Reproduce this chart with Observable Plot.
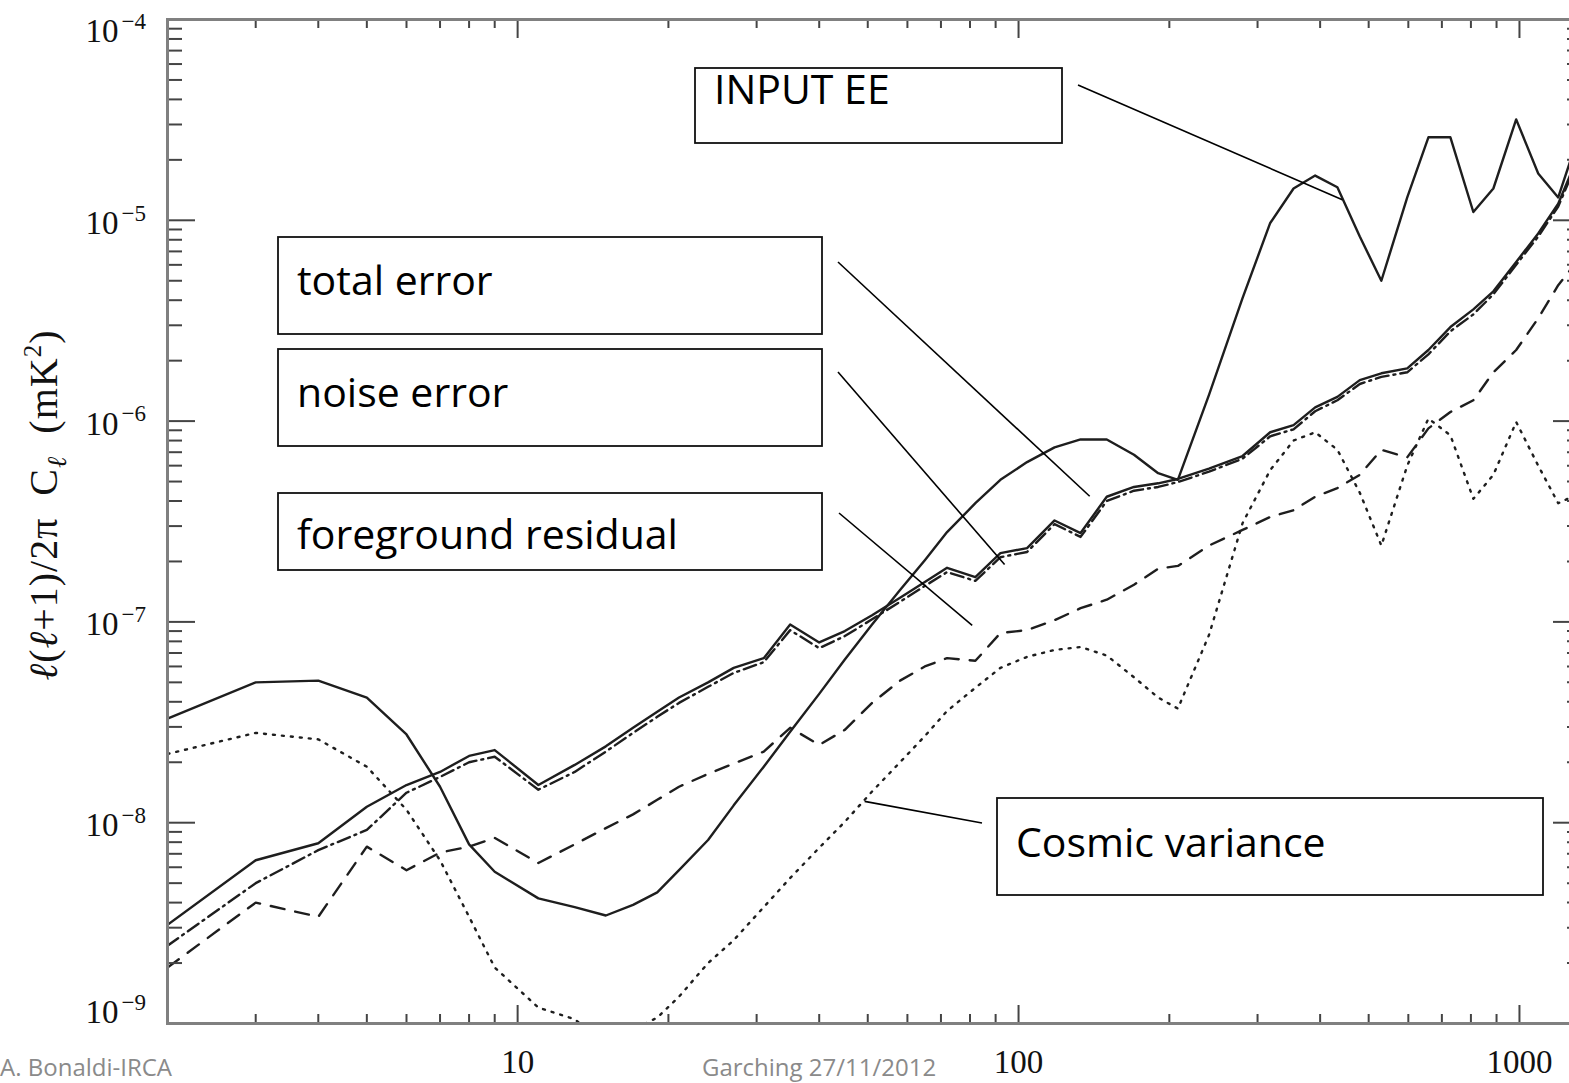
<!DOCTYPE html>
<html>
<head>
<meta charset="utf-8">
<script src="https://cdn.jsdelivr.net/npm/d3@7"></script>
<script src="https://cdn.jsdelivr.net/npm/@observablehq/plot@0.6"></script>
<style>
  html, body { margin: 0; padding: 0; background: #fff; overflow: hidden; }
  #chart svg { display: block; }
</style>
</head>
<body>
<div id="chart"></div>
<script>
// Multipole bins (ℓ)
const ell = [2, 3, 4, 5, 6, 7, 8, 9, 11, 13, 15, 17, 19, 21, 24, 27, 31, 35, 40, 45,
  51, 58, 65, 72, 82, 92, 104, 118, 133, 150, 170, 190, 208, 240, 280, 318, 354, 391, 433, 480,
  530, 597, 658, 728, 809, 887, 985, 1090, 1195, 1300];

// ℓ(ℓ+1)/2π C_ℓ in mK²
const inputEE = [3.3e-8, 5.0e-8, 5.1e-8, 4.2e-8, 2.75e-8, 1.51e-8, 7.8e-9, 5.7e-9, 4.2e-9, 3.8e-9,
  3.45e-9, 3.9e-9, 4.5e-9, 5.8e-9, 8.2e-9, 1.22e-8, 1.9e-8, 2.84e-8, 4.38e-8, 6.5e-8,
  9.7e-8, 1.44e-7, 2.03e-7, 2.8e-7, 3.9e-7, 5.1e-7, 6.25e-7, 7.4e-7, 8.1e-7, 8.1e-7,
  6.8e-7, 5.5e-7, 5.1e-7, 1.35e-6, 4.1e-6, 9.7e-6, 1.44e-5, 1.67e-5, 1.46e-5, 8.3e-6,
  5.0e-6, 1.3e-5, 2.59e-5, 2.59e-5, 1.1e-5, 1.44e-5, 3.18e-5, 1.71e-5, 1.3e-5, 2.45e-5];

const totalError = [3.1e-9, 6.5e-9, 7.9e-9, 1.2e-8, 1.54e-8, 1.79e-8, 2.15e-8, 2.3e-8, 1.54e-8, 1.94e-8,
  2.4e-8, 2.97e-8, 3.57e-8, 4.2e-8, 5.0e-8, 5.9e-8, 6.6e-8, 9.7e-8, 7.9e-8, 9.0e-8,
  1.08e-7, 1.32e-7, 1.58e-7, 1.86e-7, 1.67e-7, 2.2e-7, 2.33e-7, 3.2e-7, 2.77e-7, 4.2e-7,
  4.7e-7, 4.9e-7, 5.15e-7, 5.8e-7, 6.7e-7, 8.8e-7, 9.55e-7, 1.17e-6, 1.32e-6, 1.6e-6,
  1.73e-6, 1.83e-6, 2.26e-6, 2.94e-6, 3.6e-6, 4.43e-6, 6.2e-6, 8.6e-6, 1.21e-5, 2.0e-5];

const noiseError = [2.44e-9, 5.0e-9, 7.3e-9, 9.2e-9, 1.41e-8, 1.69e-8, 2.0e-8, 2.13e-8, 1.46e-8, 1.79e-8,
  2.26e-8, 2.8e-8, 3.37e-8, 3.95e-8, 4.75e-8, 5.57e-8, 6.3e-8, 9.1e-8, 7.4e-8, 8.5e-8,
  1.03e-7, 1.26e-7, 1.51e-7, 1.77e-7, 1.6e-7, 2.1e-7, 2.23e-7, 3.07e-7, 2.65e-7, 4.0e-7,
  4.5e-7, 4.7e-7, 4.97e-7, 5.6e-7, 6.5e-7, 8.4e-7, 9.1e-7, 1.12e-6, 1.27e-6, 1.53e-6,
  1.66e-6, 1.75e-6, 2.15e-6, 2.8e-6, 3.4e-6, 4.28e-6, 6.0e-6, 8.3e-6, 1.17e-5, 1.92e-5];

const foregroundResidual = [1.9e-9, 4.0e-9, 3.4e-9, 7.6e-9, 5.8e-9, 7.1e-9, 7.6e-9, 8.4e-9, 6.3e-9, 7.8e-9,
  9.4e-9, 1.1e-8, 1.3e-8, 1.51e-8, 1.75e-8, 1.97e-8, 2.26e-8, 2.97e-8, 2.44e-8, 2.9e-8,
  3.95e-8, 5.1e-8, 6.0e-8, 6.6e-8, 6.4e-8, 8.8e-8, 9.1e-8, 1.02e-7, 1.17e-7, 1.29e-7,
  1.53e-7, 1.84e-7, 1.9e-7, 2.4e-7, 2.87e-7, 3.33e-7, 3.6e-7, 4.2e-7, 4.64e-7, 5.4e-7,
  7.2e-7, 6.6e-7, 9.2e-7, 1.11e-6, 1.27e-6, 1.75e-6, 2.26e-6, 3.25e-6, 4.75e-6, 6.2e-6];

const cosmicVariance = [2.2e-8, 2.8e-8, 2.6e-8, 1.9e-8, 1.16e-8, 6.5e-9, 3.4e-9, 1.9e-9, 1.2e-9, 1.05e-9,
  7.9e-10, 9.3e-10, 1.07e-9, 1.36e-9, 2.0e-9, 2.6e-9, 3.8e-9, 5.3e-9, 7.5e-9, 1.01e-8,
  1.43e-8, 2.0e-8, 2.7e-8, 3.6e-8, 4.7e-8, 5.9e-8, 6.7e-8, 7.25e-8, 7.5e-8, 6.8e-8,
  5.3e-8, 4.2e-8, 3.7e-8, 8.6e-8, 3.1e-7, 5.7e-7, 8.0e-7, 8.8e-7, 7.2e-7, 4.4e-7,
  2.4e-7, 6.0e-7, 1.03e-6, 8.5e-7, 4.1e-7, 5.4e-7, 9.9e-7, 6.0e-7, 3.9e-7, 4.3e-7];

// Axis ticks
const xMajor = [10, 100, 1000];
const xMinor = [3, 4, 5, 6, 7, 8, 9, 20, 30, 40, 50, 60, 70, 80, 90, 200, 300, 400, 500, 600, 700, 800, 900];
const yMajor = [1e-9, 1e-8, 1e-7, 1e-6, 1e-5, 1e-4];
const yMinor = [-9, -8, -7, -6, -5].flatMap(e => [2, 3, 4, 5, 6, 7, 8, 9].map(k => k * 10 ** e));

// Annotation labels: text, leader start, and the curve point it points to
const notes = [
  {label: "INPUT EE", box: [695, 68, 367, 75], base: 104, from: [1078, 85], to: [444, 1.26e-5]},
  {label: "total error", box: [278, 237, 544, 97], base: 295, from: [838, 262], to: [139, 4.2e-7]},
  {label: "noise error", box: [278, 349, 544, 97], base: 407, from: [838, 372], to: [94, 1.92e-7]},
  {label: "foreground residual", box: [278, 493, 544, 77], base: 549, from: [839, 513], to: [81, 9.55e-8]},
  {label: "Cosmic variance", box: [997, 798, 546, 97], base: 857, from: [982, 823], to: [49.4, 1.27e-8]}
];

const series = [
  {name: "INPUT EE", values: inputEE, dash: null},
  {name: "total error", values: totalError, dash: null},
  {name: "noise error", values: noiseError, dash: "13,5,2,5"},
  {name: "foreground residual", values: foregroundResidual, dash: "14,11"},
  {name: "Cosmic variance", values: cosmicVariance, dash: "2,7"}
];

const W = 1569, H = 1083;
const mL = 167, mT = 19, mB = 60, mR = -12;
const frameW = W - mR - mL, frameH = H - mB - mT;
const serif = "'Liberation Serif', 'DejaVu Serif', serif";
const ink = "#1e1e1e";

const lineMarks = series.map(s => Plot.line(
  ell.map((l, i) => ({ell: l, value: s.values[i]})),
  {x: "ell", y: "value", stroke: ink, strokeWidth: 2.4, strokeDasharray: s.dash, clip: true}
));

const tickStyle = {stroke: "#444", strokeWidth: 2};

const plot = Plot.plot({
  width: W,
  height: H,
  marginLeft: mL,
  marginTop: mT,
  marginBottom: mB,
  marginRight: mR,
  style: {background: "#fff"},
  x: {type: "log", domain: [2, 1330], axis: null},
  y: {type: "log", domain: [1e-9, 1e-4], axis: null},
  marks: [
    ...lineMarks,
    // bottom and top ticks
    Plot.tickX(xMajor, {x: d => d, insetTop: frameH - 18, ...tickStyle}),
    Plot.tickX(xMinor, {x: d => d, insetTop: frameH - 9, ...tickStyle}),
    Plot.tickX(xMajor, {x: d => d, insetBottom: frameH - 19, ...tickStyle}),
    Plot.tickX(xMinor, {x: d => d, insetBottom: frameH - 9, ...tickStyle}),
    // left and right ticks
    Plot.tickY(yMajor, {y: d => d, insetRight: frameW - 28, ...tickStyle}),
    Plot.tickY(yMinor, {y: d => d, insetRight: frameW - 15, ...tickStyle}),
    Plot.tickY(yMajor, {y: d => d, insetLeft: frameW - 28, ...tickStyle}),
    Plot.tickY(yMinor, {y: d => d, insetLeft: frameW - 14, ...tickStyle}),
    Plot.frame({stroke: "#808080", strokeWidth: 3}),
    // x tick labels
    Plot.text(xMajor, {x: d => d, frameAnchor: "bottom", dy: 49, text: d => String(d),
      fontFamily: serif, fontSize: 33, fill: "#111"}),
    // y tick labels: mantissa and exponent
    ...[[yMajor.slice(1, 5), 3], [[1e-4], 12], [[1e-9], -11]].flatMap(([vals, dy]) => [
      Plot.text(vals, {y: d => d, frameAnchor: "left", dx: -49, dy, textAnchor: "end",
        text: () => "10", fontFamily: serif, fontSize: 33, fill: "#111"}),
      Plot.text(vals, {y: d => d, frameAnchor: "left", dx: -46, dy: dy - 10, textAnchor: "start",
        text: d => "\u2212" + Math.round(-Math.log10(d)), fontFamily: serif, fontSize: 23, fill: "#111"})
    ])
  ]
});

document.getElementById("chart").appendChild(plot);

const svg = d3.select(plot);
const sx = plot.scale("x"), sy = plot.scale("y");

// Y axis title
const ytitle = svg.append("text")
  .attr("transform", "translate(57,505) rotate(-90)")
  .attr("text-anchor", "middle")
  .attr("font-family", serif)
  .attr("font-size", 40)
  .attr("letter-spacing", 1)
  .attr("fill", "#111");
ytitle.append("tspan").attr("font-style", "italic").text("\u2113");
ytitle.append("tspan").text("(");
ytitle.append("tspan").attr("font-style", "italic").text("\u2113");
ytitle.append("tspan").text("+1)/2\u03c0");
ytitle.append("tspan").attr("dx", 22).text("C");
ytitle.append("tspan").attr("font-style", "italic").attr("font-size", 27).attr("dy", 9).text("\u2113");
ytitle.append("tspan").attr("dx", 22).attr("dy", -9).text("(mK");
ytitle.append("tspan").attr("font-size", 25).attr("dy", -16).text("2");
ytitle.append("tspan").attr("dy", 16).text(")");

// Annotation boxes with leader lines
const g = svg.append("g").attr("text-anchor", "start");
for (const n of notes) {
  const [bx, by, bw, bh] = n.box;
  g.append("line")
    .attr("x1", n.from[0]).attr("y1", n.from[1])
    .attr("x2", sx.apply(n.to[0])).attr("y2", sy.apply(n.to[1]))
    .attr("stroke", "#000").attr("stroke-width", 1.6);
  g.append("rect")
    .attr("x", bx).attr("y", by).attr("width", bw).attr("height", bh)
    .attr("fill", "#fff").attr("stroke", "#111").attr("stroke-width", 1.8);
  g.append("text")
    .attr("x", bx + 19).attr("y", n.base)
    .attr("text-anchor", "start")
    .attr("font-family", "'Open Sans', sans-serif")
    .attr("font-size", 41)
    .attr("fill", "#000")
    .text(n.label);
}

// Footer
const footer = "'Open Sans', sans-serif";
svg.append("text").attr("x", 0).attr("y", 1076).attr("text-anchor", "start")
  .attr("font-family", footer).attr("font-size", 24).attr("fill", "#8a8a8a")
  .text("A. Bonaldi-IRCA");
svg.append("text").attr("x", 702).attr("y", 1076).attr("text-anchor", "start")
  .attr("font-family", footer).attr("font-size", 24).attr("fill", "#8a8a8a")
  .text("Garching 27/11/2012");
</script>
</body>
</html>
